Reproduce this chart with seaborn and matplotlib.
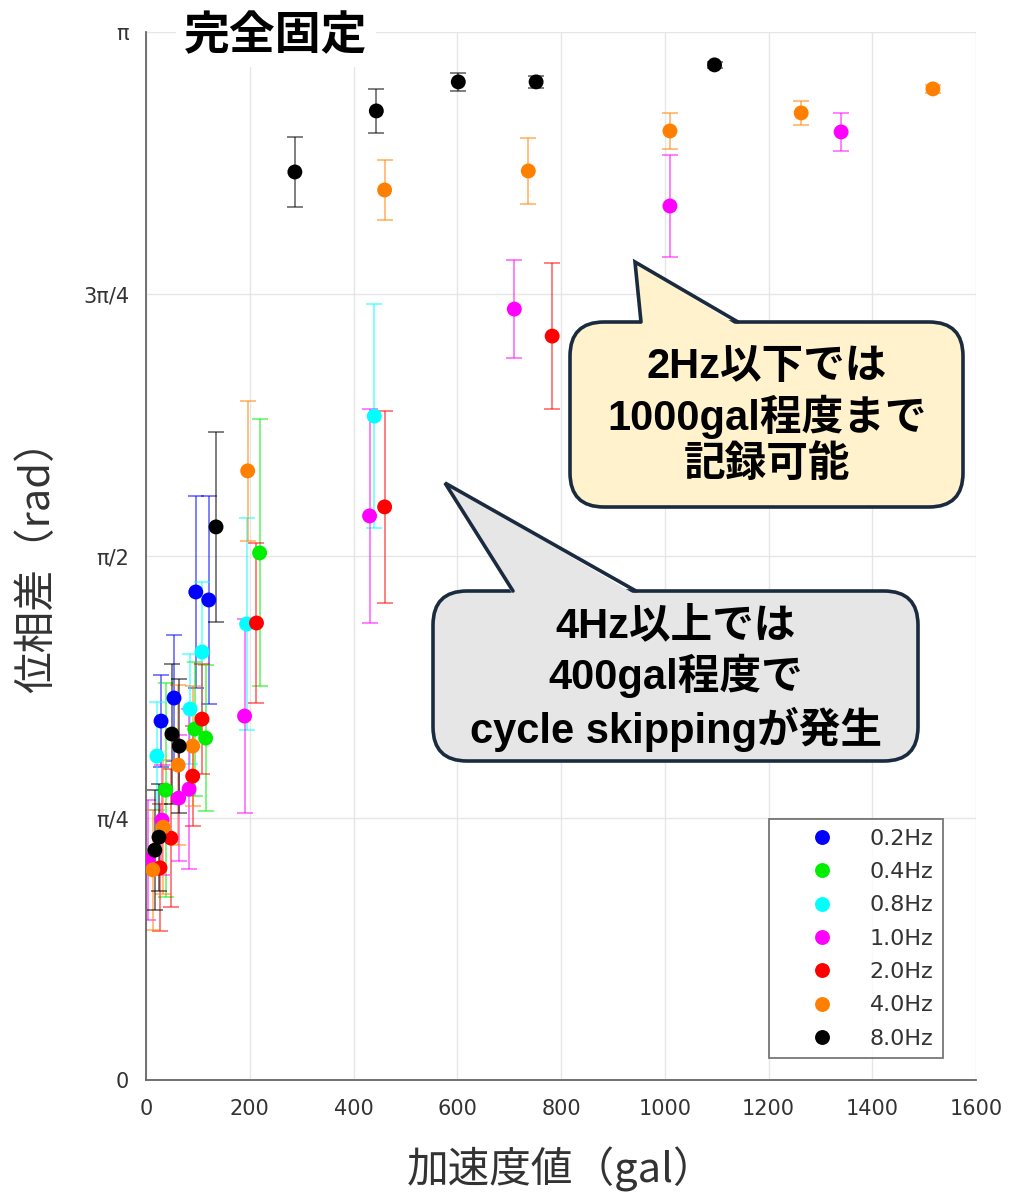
import numpy as np
import pandas as pd
import matplotlib
matplotlib.use("Agg")
import matplotlib.pyplot as plt
from matplotlib.patches import FancyBboxPatch, Polygon
import seaborn as sns

# ---- data: acceleration [gal], phase difference [rad], error half-width [rad]
freqs = ["0.2Hz", "0.4Hz", "0.8Hz", "1.0Hz", "2.0Hz", "4.0Hz", "8.0Hz"]
colors = ["#0000FF", "#00EE00", "#00FFFF", "#FF00FF", "#FF0000", "#FF8000", "#000000"]

acc_02 = [29, 54, 96, 121]
phs_02 = [1.076, 1.145, 1.463, 1.439]
err_02 = [0.138, 0.189, 0.288, 0.312]

acc_04 = [38, 94, 115, 219]
phs_04 = [0.869, 1.052, 1.025, 1.580]
err_04 = [0.32, 0.20, 0.22, 0.40]

acc_08 = [21, 85, 108, 194, 440]
phs_08 = [0.971, 1.112, 1.283, 1.367, 1.990]
err_08 = [0.162, 0.165, 0.21, 0.318, 0.336]

acc_10 = [4, 31, 63, 83, 190, 431, 710, 1010, 1340]
phs_10 = [0.660, 0.779, 0.845, 0.872, 1.091, 1.691, 2.311, 2.620, 2.842]
err_10 = [0.18, 0.165, 0.19, 0.24, 0.29, 0.32, 0.147, 0.153, 0.057]

acc_20 = [27, 48, 90, 108, 213, 460, 783]
phs_20 = [0.636, 0.725, 0.911, 1.082, 1.370, 1.718, 2.230]
err_20 = [0.19, 0.207, 0.15, 0.165, 0.24, 0.288, 0.219]

acc_40 = [13, 33, 62, 90, 196, 460, 737, 1010, 1263, 1517]
phs_40 = [0.630, 0.758, 0.944, 1.001, 1.826, 2.668, 2.725, 2.845, 2.899, 2.971]
err_40 = [0.18, 0.20, 0.24, 0.18, 0.21, 0.09, 0.099, 0.054, 0.036, 0.012]

acc_80 = [17, 25, 50, 64, 135, 287, 444, 602, 752, 1096]
phs_80 = [0.689, 0.728, 1.037, 1.001, 1.658, 2.722, 2.905, 2.992, 2.992, 3.043]
err_80 = [0.18, 0.16, 0.21, 0.20, 0.285, 0.105, 0.066, 0.028, 0.018, 0.010]

series = {
    "0.2Hz": (acc_02, phs_02, err_02),
    "0.4Hz": (acc_04, phs_04, err_04),
    "0.8Hz": (acc_08, phs_08, err_08),
    "1.0Hz": (acc_10, phs_10, err_10),
    "2.0Hz": (acc_20, phs_20, err_20),
    "4.0Hz": (acc_40, phs_40, err_40),
    "8.0Hz": (acc_80, phs_80, err_80),
}

ytick_vals = [0, np.pi / 4, np.pi / 2, 3 * np.pi / 4, np.pi]
ytick_labels = ["0", "π/4", "π/2", "3π/4", "π"]
xtick_vals = [0, 200, 400, 600, 800, 1000, 1200, 1400, 1600]

rows = []
for f in freqs:
    a, p, e = series[f]
    for ai, pi_, ei in zip(a, p, e):
        rows.append({"accel": ai, "phase": pi_, "err": ei, "freq": f})
df = pd.DataFrame(rows)

# ---- style
sns.set_style("white")
plt.rcParams["font.family"] = ["DejaVu Sans", "Noto Sans CJK JP"]
jp = ["Noto Sans CJK JP", "DejaVu Sans"]
bold_jp = ["Liberation Sans", "Noto Sans CJK JP"]

W, H = 1010, 1192
fig = plt.figure(figsize=(W / 100, H / 100), dpi=100)
L, R, T, B = 146, 976, 32, 1080
ax = fig.add_axes([L / W, 1 - B / H, (R - L) / W, (B - T) / H])

# error bars under the markers
for f, c in zip(freqs, colors):
    sub = df[df["freq"] == f]
    ax.errorbar(sub["accel"], sub["phase"], yerr=sub["err"], fmt="none",
                ecolor=c, elinewidth=1.4, capsize=6, capthick=1.4,
                alpha=0.5, zorder=2)

sns.scatterplot(data=df, x="accel", y="phase", hue="freq", hue_order=freqs,
                palette=colors, s=115, linewidth=0, ax=ax, zorder=3, legend=True)

ax.set_xlim(0, 1600)
ax.set_ylim(0, np.pi)
ax.set_xticks(xtick_vals)
ax.set_yticks(ytick_vals)
ax.set_yticklabels(ytick_labels)
ax.grid(True, color="#e6e6e6", linewidth=1.0, zorder=0)
ax.set_axisbelow(True)
for s in ["top", "right"]:
    ax.spines[s].set_visible(False)
for s in ["left", "bottom"]:
    ax.spines[s].set_color("#666666")
    ax.spines[s].set_linewidth(1.3)
ax.tick_params(axis="both", direction="in", length=7, width=1.2, color="#777777",
               labelsize=15, labelcolor="#333333")
ax.tick_params(axis="x", pad=14)
ax.tick_params(axis="y", pad=12)

ax.set_xlabel("加速度値（gal）", fontsize=30, color="#333333", family=jp, labelpad=20)
ax.set_ylabel("位相差（rad）", fontsize=30, color="#333333", family=jp, labelpad=18)

handles, labels = ax.get_legend_handles_labels()
leg = ax.legend(handles, labels, loc="lower left", bbox_to_anchor=(0.7506, 0.021),
                borderaxespad=0, frameon=True, fancybox=False, fontsize=16,
                handlelength=3.9, handletextpad=0.2, borderpad=0.42,
                labelspacing=0.6, markerscale=1.0)
leg.get_frame().set_edgecolor("#555555")
leg.get_frame().set_linewidth(1.3)
for t in leg.get_texts():
    t.set_color("#333333")

# ---- overlay in pixel coordinates for title and callouts
ov = fig.add_axes([0, 0, 1, 1], zorder=10)
ov.set_xlim(0, W)
ov.set_ylim(H, 0)
ov.axis("off")
ov.patch.set_alpha(0)

ov.text(276, 36, "完全固定", fontsize=33, fontweight="bold", family=jp,
        ha="center", va="center", color="black",
        bbox=dict(facecolor="white", edgecolor="none", pad=6))

edge = "#1B2B3F"


def callout(x, y, w, h, tip, base_l, base_r, fill, text, cx, cy):
    box = FancyBboxPatch((x, y), w, h, boxstyle="round,pad=0,rounding_size=34",
                         facecolor=fill, edgecolor=edge, linewidth=2.6, zorder=1)
    ov.add_patch(box)
    tail = Polygon([tip, (base_l[0], base_l[1] + 4), (base_r[0], base_r[1] + 4)],
                   closed=True, facecolor=fill, edgecolor="none", zorder=2)
    ov.add_patch(tail)
    ov.plot([base_l[0], tip[0], base_r[0]], [base_l[1], tip[1], base_r[1]],
            color=edge, linewidth=2.6, solid_joinstyle="miter", zorder=3)
    ov.text(cx, cy, text, fontsize=30, fontweight="bold", family=bold_jp,
            ha="center", va="center", color="black", linespacing=1.22, zorder=4)


callout(570, 322, 393, 185, (635, 262), (641, 322), (738, 322), "#FFF2CC",
        "2Hz以下では\n1000gal程度まで\n記録可能", 767, 416)
callout(433, 591, 485, 170, (445, 483), (513, 591), (636, 591), "#E7E6E6",
        "4Hz以上では\n400gal程度で\ncycle skippingが発生", 676, 679)

fig.savefig("out.png", dpi=100)
